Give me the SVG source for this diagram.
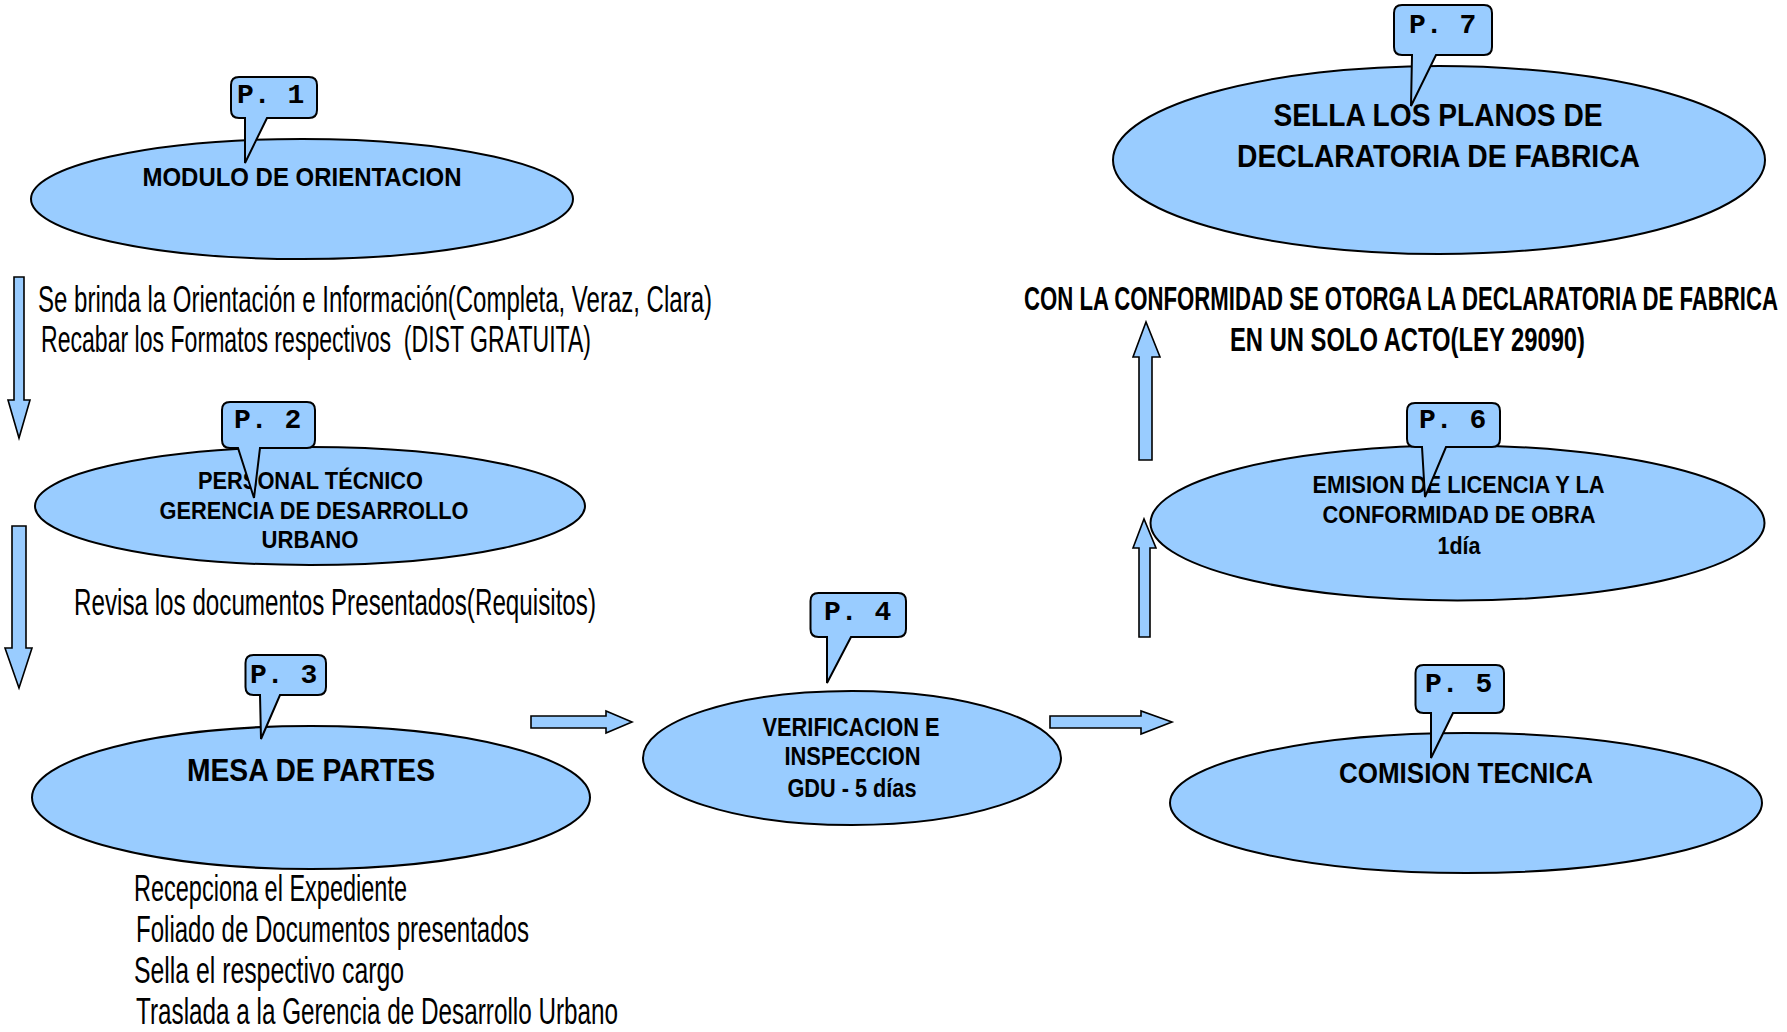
<svg xmlns="http://www.w3.org/2000/svg" width="1787" height="1032" viewBox="0 0 1787 1032">
<style>
.ell{fill:#99ccff;stroke:#000;stroke-width:2}
.call{fill:#99ccff;stroke:#000;stroke-width:2;stroke-linejoin:miter}
.arr{fill:#99ccff;stroke:#000;stroke-width:1.6;stroke-linejoin:miter}
.nt{font-family:"Liberation Sans",Arial,sans-serif;font-weight:bold;fill:#000;text-anchor:middle}
.pt{font-family:"Liberation Mono","Courier New",monospace;font-weight:bold;font-size:28px;fill:#000}
.ann{font-family:"Liberation Sans Narrow","Liberation Sans",Arial,sans-serif;font-size:36px;fill:#000}
.big{font-family:"Liberation Sans Narrow","Liberation Sans",Arial,sans-serif;font-weight:bold;font-size:33px;fill:#000}
</style>
<rect width="1787" height="1032" fill="#fff"/>

<g id="connectors">
<path class="arr" d="M14,277 H24 V400 H30 L19,438 L8,400 H14 Z"/>
<path class="arr" d="M12,526 H26 V648 H32 L19,688 L5,648 H12 Z"/>
<path class="arr" d="M531,716 H606 V711 L632,722 L606,733 V728 H531 Z"/>
<path class="arr" d="M1050,716 H1141 V711 L1172,722 L1141,734 V728 H1050 Z"/>
<path class="arr" d="M1139,637 V548 H1133 L1144,519 L1156,548 H1150 V637 Z"/>
<path class="arr" d="M1139,460 V357 H1133 L1146,322 L1160,357 H1152 V460 Z"/>
</g>

<g id="annotations">
<text class="ann" x="38" y="312" textLength="674" lengthAdjust="spacingAndGlyphs">Se brinda la Orientación e Información(Completa, Veraz, Clara)</text>
<text class="ann" x="41" y="352" textLength="550" lengthAdjust="spacingAndGlyphs">Recabar los Formatos respectivos &#160;(DIST GRATUITA)</text>
<text class="ann" x="74" y="615" textLength="522" lengthAdjust="spacingAndGlyphs">Revisa los documentos Presentados(Requisitos)</text>
<text class="ann" x="134" y="901" textLength="273" lengthAdjust="spacingAndGlyphs">Recepciona el Expediente</text>
<text class="ann" x="136" y="942" textLength="393" lengthAdjust="spacingAndGlyphs">Foliado de Documentos presentados</text>
<text class="ann" x="134" y="983" textLength="270" lengthAdjust="spacingAndGlyphs">Sella el respectivo cargo</text>
<text class="ann" x="136" y="1024" textLength="482" lengthAdjust="spacingAndGlyphs">Traslada a la Gerencia de Desarrollo Urbano</text>
<text class="big" x="1024" y="310" textLength="754" lengthAdjust="spacingAndGlyphs">CON LA CONFORMIDAD SE OTORGA LA DECLARATORIA DE FABRICA</text>
<text class="big" x="1230" y="351" textLength="355" lengthAdjust="spacingAndGlyphs">EN UN SOLO ACTO(LEY 29090)</text>
</g>

<g id="node-p1">
<ellipse class="ell" cx="302" cy="199" rx="271" ry="60"/>
<text class="nt" x="302" y="186" font-size="26" textLength="319" lengthAdjust="spacingAndGlyphs">MODULO DE ORIENTACION</text>
<path class="call" d="M239,77 H309 Q317,77 317,85 V110 Q317,118 309,118 H267 L245,163 L245,118 H239 Q231,118 231,110 V85 Q231,77 239,77 Z"/>
<text class="pt" x="237" y="103">P. 1</text>
</g>

<g id="node-p2">
<ellipse class="ell" cx="310" cy="506" rx="275" ry="59"/>
<text class="nt" x="310.5" y="489" font-size="23" textLength="225" lengthAdjust="spacingAndGlyphs">PERSONAL TÉCNICO</text>
<text class="nt" x="314" y="519" font-size="23" textLength="309" lengthAdjust="spacingAndGlyphs">GERENCIA DE DESARROLLO</text>
<text class="nt" x="310" y="548" font-size="23" textLength="97" lengthAdjust="spacingAndGlyphs">URBANO</text>
<path class="call" d="M230,402 H307 Q315,402 315,410 V440 Q315,448 307,448 H260 L254,498 L238,448 H230 Q222,448 222,440 V410 Q222,402 230,402 Z"/>
<text class="pt" x="234" y="428">P. 2</text>
</g>

<g id="node-p3">
<ellipse class="ell" cx="311" cy="797.5" rx="279" ry="71.5"/>
<text class="nt" x="311" y="781" font-size="31" textLength="248" lengthAdjust="spacingAndGlyphs">MESA DE PARTES</text>
<path class="call" d="M253.5,655 H318 Q326,655 326,663 V687 Q326,695 318,695 H280 L261,739 L260,695 H253.5 Q245.5,695 245.5,687 V663 Q245.5,655 253.5,655 Z"/>
<text class="pt" x="250" y="683">P. 3</text>
</g>

<g id="node-p4">
<ellipse class="ell" cx="852" cy="758" rx="209" ry="67"/>
<text class="nt" x="851" y="736" font-size="25" textLength="177" lengthAdjust="spacingAndGlyphs">VERIFICACION E</text>
<text class="nt" x="852.5" y="765" font-size="25" textLength="136" lengthAdjust="spacingAndGlyphs">INSPECCION</text>
<text class="nt" x="852" y="797" font-size="25" textLength="129" lengthAdjust="spacingAndGlyphs">GDU - 5 días</text>
<path class="call" d="M818.5,593 H898 Q906,593 906,601 V629 Q906,637 898,637 H851 L827,683 L827,637 H818.5 Q810.5,637 810.5,629 V601 Q810.5,593 818.5,593 Z"/>
<text class="pt" x="824" y="620">P. 4</text>
</g>

<g id="node-p5">
<ellipse class="ell" cx="1466" cy="803" rx="296" ry="70"/>
<text class="nt" x="1466" y="783" font-size="29" textLength="254" lengthAdjust="spacingAndGlyphs">COMISION TECNICA</text>
<path class="call" d="M1423.5,665 H1496 Q1504,665 1504,673 V705 Q1504,713 1496,713 H1453 L1431,758 L1431,713 H1423.5 Q1415.5,713 1415.5,705 V673 Q1415.5,665 1423.5,665 Z"/>
<text class="pt" x="1425" y="692">P. 5</text>
</g>

<g id="node-p6">
<ellipse class="ell" cx="1457.5" cy="523" rx="307" ry="77.5"/>
<text class="nt" x="1458.5" y="493" font-size="23" textLength="292" lengthAdjust="spacingAndGlyphs">EMISION DE LICENCIA Y LA</text>
<text class="nt" x="1459" y="523" font-size="23" textLength="273" lengthAdjust="spacingAndGlyphs">CONFORMIDAD DE OBRA</text>
<text class="nt" x="1459" y="554" font-size="23" textLength="43" lengthAdjust="spacingAndGlyphs">1día</text>
<path class="call" d="M1415,403 H1492 Q1500,403 1500,411 V439 Q1500,447 1492,447 H1446 L1425,497 L1422,447 H1415 Q1407,447 1407,439 V411 Q1407,403 1415,403 Z"/>
<text class="pt" x="1419" y="428">P. 6</text>
</g>

<g id="node-p7">
<ellipse class="ell" cx="1439" cy="160" rx="326" ry="94"/>
<text class="nt" x="1438" y="126" font-size="31" textLength="329" lengthAdjust="spacingAndGlyphs">SELLA LOS PLANOS DE</text>
<text class="nt" x="1438.5" y="167" font-size="31" textLength="403" lengthAdjust="spacingAndGlyphs">DECLARATORIA DE FABRICA</text>
<path class="call" d="M1402,5 H1484 Q1492,5 1492,13 V47 Q1492,55 1484,55 H1436 L1411,106 L1412,55 H1402 Q1394,55 1394,47 V13 Q1394,5 1402,5 Z"/>
<text class="pt" x="1409" y="33">P. 7</text>
</g>
</svg>
